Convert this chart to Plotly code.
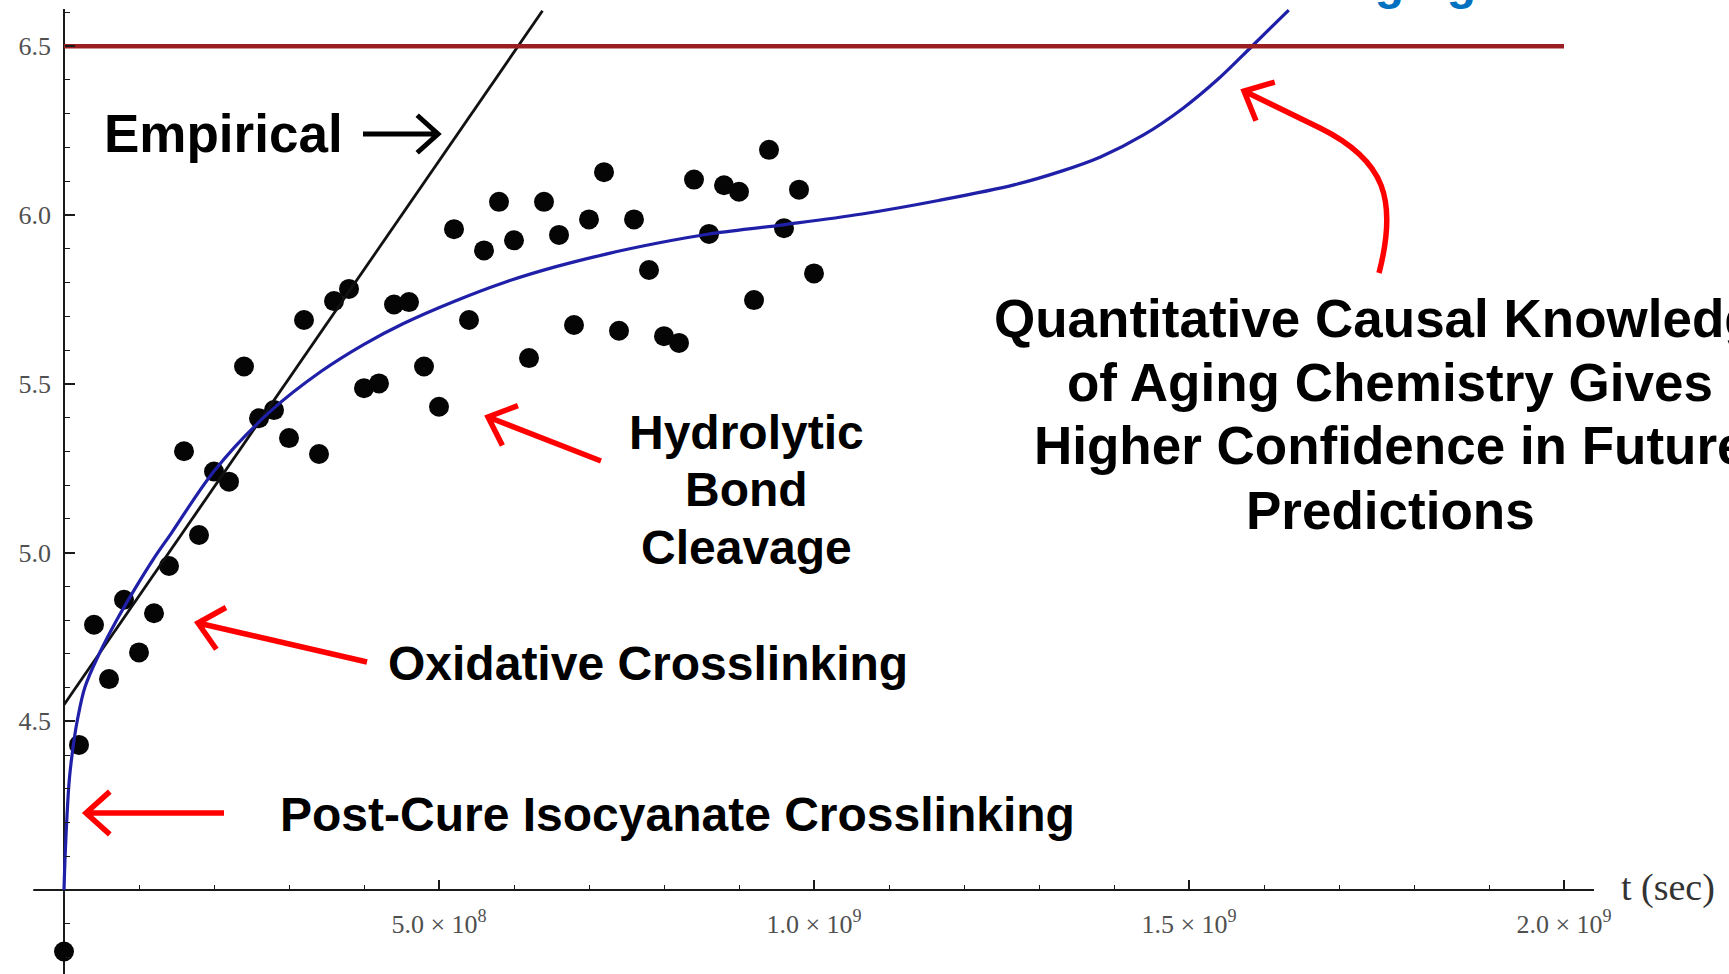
import math
import plotly.graph_objects as go

W, H = 1729, 974

# ---------------- data ----------------
sample_t = [0.0, 0.2e8, 0.4e8, 0.6e8, 0.8e8, 1.0e8, 1.2e8, 1.4e8, 1.6e8, 1.8e8,
            2.0e8, 2.2e8, 2.4e8, 2.6e8, 2.8e8, 3.0e8, 3.2e8, 3.4e8, 3.6e8, 3.8e8,
            4.0e8, 4.2e8, 4.4e8, 4.6e8, 4.8e8, 5.0e8, 5.2e8, 5.4e8, 5.6e8, 5.8e8,
            6.0e8, 6.2e8, 6.4e8, 6.6e8, 6.8e8, 7.0e8, 7.2e8, 7.4e8, 7.6e8, 7.8e8,
            8.0e8, 8.2e8, 8.4e8, 8.6e8, 8.8e8, 9.0e8, 9.2e8, 9.4e8, 9.6e8, 9.8e8,
            10.0e8]
sample_value = [3.818, 4.43, 4.786, 4.625, 4.86, 4.704, 4.82, 4.96, 5.30, 5.052,
                5.24, 5.21, 5.551, 5.398, 5.422, 5.339, 5.689, 5.292, 5.745, 5.781,
                5.487, 5.501, 5.735, 5.742, 5.551, 5.432, 5.958, 5.689, 5.895, 6.039,
                5.925, 5.576, 6.039, 5.941, 5.674, 5.987, 6.127, 5.657, 5.987, 5.837,
                5.641, 5.621, 6.105, 5.944, 6.088, 6.069, 5.748, 6.193, 5.961, 6.075,
                5.827]

model_t = [0.0, 1.5e6, 4.0e6, 7.2e6, 1.25e7, 1.78e7, 2.81e7, 4.59e7, 7.03e7, 9.71e7,
           1.19e8, 1.43e8, 2.01e8, 2.75e8, 3.43e8, 4.0e8, 4.52e8, 5.2e8, 5.88e8, 6.56e8,
           7.24e8, 7.92e8, 8.58e8, 9.59e8, 1.064e9, 1.166e9, 1.268e9, 1.33e9, 1.382e9,
           1.44e9, 1.493e9, 1.54e9, 1.584e9, 1.633e9]
model_value = [4.0, 4.1, 4.22, 4.33, 4.43, 4.503, 4.602, 4.695, 4.8, 4.902,
               4.98, 5.057, 5.244, 5.418, 5.537, 5.617, 5.678, 5.744, 5.801, 5.847,
               5.885, 5.917, 5.943, 5.971, 6.003, 6.043, 6.09, 6.13, 6.172,
               6.238, 6.318, 6.405, 6.5, 6.607]

empirical_t = [0.0, 6.38e8]
empirical_value = [4.549, 6.605]

threshold_t = [0.0, 2.0e9]
threshold_value = [6.5, 6.5]

x_tick_vals = [5.0e8, 1.0e9, 1.5e9, 2.0e9]
x_tick_text = ["5.0 × 10<sup>8</sup>", "1.0 × 10<sup>9</sup>",
               "1.5 × 10<sup>9</sup>", "2.0 × 10<sup>9</sup>"]
y_tick_vals = [4.5, 5.0, 5.5, 6.0, 6.5]
y_tick_text = ["4.5", "5.0", "5.5", "6.0", "6.5"]
x_minor_vals = [1e8 * k for k in range(1, 21) if k % 5]
y_minor_vals = [round(3.8 + 0.1 * k, 1) for k in range(0, 29)]

# ---------------- layout helpers ----------------
X_RANGE = [-8.533e7, 2.22e9]
Y_RANGE = [3.7513, 6.637]
AXIS_Y = 4.0
AXIS_X = 0.0


def px(x):
    return x / W


def py(y):
    return 1 - y / H


fig = go.Figure()

fig.add_trace(go.Scatter(x=sample_t, y=sample_value, mode="markers",
                         marker=dict(size=20, color="#050505"),
                         hoverinfo="skip"))
fig.add_trace(go.Scatter(x=empirical_t, y=empirical_value, mode="lines",
                         line=dict(color="#111111", width=2.8), hoverinfo="skip"))
fig.add_trace(go.Scatter(x=model_t, y=model_value, mode="lines",
                         line=dict(color="#1f1fa8", width=3.2, shape="spline", smoothing=1.0),
                         hoverinfo="skip"))
fig.add_trace(go.Scatter(x=threshold_t, y=threshold_value, mode="lines",
                         line=dict(color="#9a1e22", width=4.5), hoverinfo="skip"))

# axis lines (Mathematica style, crossing at (0, 4.0))
fig.add_shape(type="line", xref="x", yref="y", x0=-4.1e7, x1=2.04e9, y0=AXIS_Y, y1=AXIS_Y,
              line=dict(color="#1a1a1a", width=2), layer="below")
fig.add_shape(type="line", xref="x", yref="y", x0=AXIS_X, x1=AXIS_X, y0=Y_RANGE[0], y1=6.61,
              line=dict(color="#1a1a1a", width=2), layer="below")

tickfont = dict(family="Liberation Serif, Times New Roman, serif", size=26, color="#505050")

fig.update_layout(
    width=W, height=H,
    margin=dict(l=0, r=0, t=0, b=0),
    paper_bgcolor="white", plot_bgcolor="white",
    showlegend=False,
    xaxis=dict(range=X_RANGE, showgrid=False, zeroline=False, showline=False,
               anchor="free", position=(AXIS_Y - Y_RANGE[0]) / (Y_RANGE[1] - Y_RANGE[0]),
               tickmode="array", tickvals=x_tick_vals, ticktext=x_tick_text,
               ticks="inside", ticklen=10, tickwidth=1.6, tickcolor="#1a1a1a",
               tickfont=tickfont, ticklabelstandoff=16,
               minor=dict(tickmode="array", tickvals=x_minor_vals, ticks="inside",
                          ticklen=5, tickwidth=1.4, tickcolor="#1a1a1a")),
    yaxis=dict(range=Y_RANGE, showgrid=False, zeroline=False, showline=False,
               anchor="free", position=(AXIS_X - X_RANGE[0]) / (X_RANGE[1] - X_RANGE[0]),
               tickmode="array", tickvals=y_tick_vals, ticktext=y_tick_text,
               ticks="inside", ticklen=10, tickwidth=1.6, tickcolor="#1a1a1a",
               tickfont=tickfont, ticklabelstandoff=13,
               minor=dict(tickmode="array", tickvals=y_minor_vals, ticks="inside",
                          ticklen=5, tickwidth=1.4, tickcolor="#1a1a1a")),
)

# ---------------- annotations ----------------
bold = "Arial, Liberation Sans, sans-serif"


def label(text, x, y, size=48, color="black", xanchor="center", yanchor="middle"):
    fig.add_annotation(x=px(x), y=py(y), xref="paper", yref="paper", text=text,
                       showarrow=False, xanchor=xanchor, yanchor=yanchor,
                       font=dict(family=bold, size=size, color=color, weight="bold"))


def chevron(tip, tail, arm=30, ang=42):
    dx, dy = tip[0] - tail[0], tip[1] - tail[1]
    n = math.hypot(dx, dy)
    ux, uy = dx / n, dy / n
    pts = []
    for s in (1, -1):
        a = math.radians(ang * s)
        rx = ux * math.cos(a) - uy * math.sin(a)
        ry = ux * math.sin(a) + uy * math.cos(a)
        pts.append((tip[0] - arm * rx, tip[1] - arm * ry))
    return "M {} {} L {} {} L {} {}".format(px(pts[0][0]), py(pts[0][1]),
                                            px(tip[0]), py(tip[1]),
                                            px(pts[1][0]), py(pts[1][1]))


def arrow(tip, tail, color="red", width=5.5, arm=32):
    path = "M {} {} L {} {} ".format(px(tail[0]), py(tail[1]), px(tip[0]), py(tip[1]))
    path += chevron(tip, tail, arm=arm)
    fig.add_shape(type="path", xref="paper", yref="paper", path=path,
                  line=dict(color=color, width=width))


label("Empirical", 223, 134, size=53)
arrow((438, 134), (363, 134), color="black", width=5, arm=28)

label("Hydrolytic", 746, 432)
label("Bond", 746, 489)
label("Cleavage", 746, 547)
arrow((488, 417), (601, 461))

label("Oxidative Crosslinking", 648, 663)
arrow((198, 623), (367, 662))

label("Post-Cure Isocyanate Crosslinking", 677, 814)
arrow((86, 813), (224, 813))

label("Quantitative Causal Knowledge", 1390, 318, size=53)
label("of Aging Chemistry Gives", 1390, 382, size=53)
label("Higher Confidence in Future", 1390, 446, size=53)
label("Predictions", 1390, 510, size=53)

# curved red arrow toward the crossing point
tip = (1244, 91)
p = [(1379, 273), (1398, 200), (1385, 160), (1320, 128)]
path = "M {} {} C {} {}, {} {}, {} {} L {} {} ".format(
    px(p[0][0]), py(p[0][1]), px(p[1][0]), py(p[1][1]),
    px(p[2][0]), py(p[2][1]), px(p[3][0]), py(p[3][1]), px(tip[0]), py(tip[1]))
path += chevron(tip, p[3], arm=32)
fig.add_shape(type="path", xref="paper", yref="paper", path=path,
              line=dict(color="red", width=5.5))

# partially visible blue heading at the top edge
label("Aging", 1338, 11, size=48, color="#0070c0", xanchor="left", yanchor="bottom")

# axis title
fig.add_annotation(x=px(1668), y=py(887), xref="paper", yref="paper", text="t (sec)",
                   showarrow=False, xanchor="center", yanchor="middle",
                   font=dict(family="Liberation Serif, Times New Roman, serif", size=38,
                             color="#333333"))

fig.write_html("out.html",
               config={"displayModeBar": False},
               post_script="document.body.style.margin='0px';"
                           "document.body.style.overflow='hidden';")
